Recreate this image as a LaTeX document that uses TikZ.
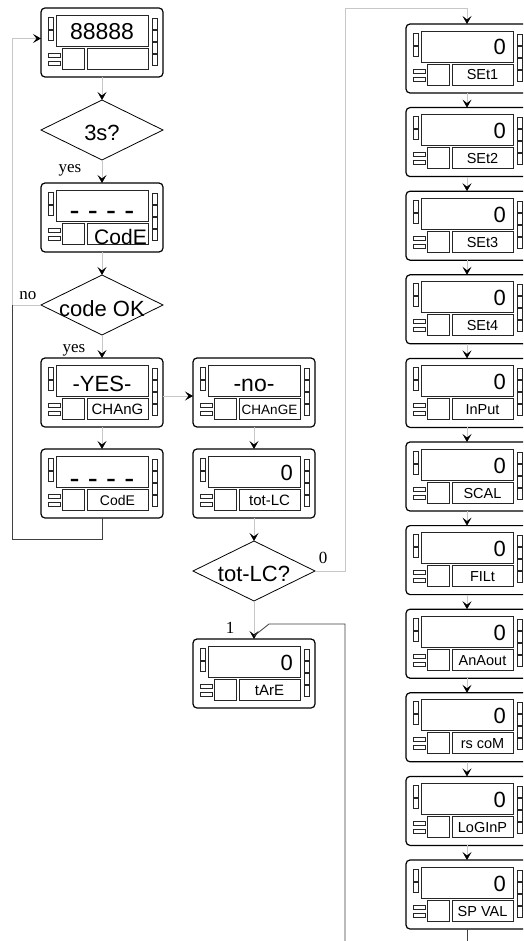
\documentclass[tikz,border=0pt]{standalone}
\usepackage{fontspec}
\setmainfont{Liberation Sans}
\newfontfamily\serifed{Liberation Serif}
\usetikzlibrary{arrows.meta,shapes.geometric}
\tikzset{
  devbox/.style={draw=black, line width=1.2pt, rounded corners=4pt, minimum width=122pt, minimum height=69pt, inner sep=0pt, outer sep=0pt},
  part/.style={draw=black!85, line width=0.7pt},
  conn/.style={draw=black!22, line width=0.7pt},
  darkconn/.style={draw=black!75, line width=0.8pt},
  arr/.style={-{Stealth[black, length=8pt, width=9pt, inset=3.5pt]}},
  decision/.style={draw=black, line width=0.8pt, diamond, minimum width=122pt, minimum height=60pt, inner sep=0pt, outer sep=0pt},
  big/.style={font=\fontsize{22}{22}\selectfont, inner sep=0pt},
  dtxt/.style={font=\fontsize{22}{22}\selectfont, inner sep=0pt},
  dashtxt/.style={font=\fontsize{30}{30}\selectfont, inner sep=0pt},
  lbl/.style={font=\fontsize{15}{15}\selectfont, inner sep=0pt},
  lblr/.style={font=\fontsize{14.5}{14.5}\selectfont, inner sep=0pt},
  ser/.style={font=\serifed\fontsize{17}{17}\selectfont, inner sep=0pt},
}
\newcommand\dev[4]{%
  \node[devbox] (#1) at ({#2+61},{#3+34.5}) {};
  \begin{scope}[shift={({#2},{#3})}]
    \draw[part] (7,9) rectangle (12,21) (7,22) rectangle (12,32)
      (15,7) rectangle (107,38)
      (7,45) rectangle (19,49) (7,53) rectangle (19,57)
      (21,40) rectangle (43,61) (46,40) rectangle (107,61)
      (111,10) rectangle (116,21) (111,22) rectangle (116,33)
      (111,34) rectangle (116,45) (111,46) rectangle (116,57);
    #4
  \end{scope}}
\begin{document}
\begin{tikzpicture}[x=1pt,y=-1pt]
\clip (0,0) rectangle (523,941);
\fill[white] (0,0) rectangle (523,941);
% left column
\dev{d1}{41}{8}{\node[font=\fontsize{23}{23}\selectfont,inner sep=0pt,anchor=base] at (61,31.5) {88888};}
\node[decision] (q1) at (102,130) {};
\node[dtxt,anchor=base] (q1t) at (102,141) {3s?};
\dev{d2}{41}{183}{\node[dashtxt,anchor=base] at (61,37.7) {- - - -};
  \node[font=\fontsize{21}{21}\selectfont,inner sep=0pt,anchor=base] at (79.5,61) {CodE};}
\node[decision] (q2) at (102,305) {};
\node[dtxt,anchor=base] (q2t) at (102,316) {code OK};
\dev{d3}{41}{358}{\node[big,anchor=base] at (61,33.5) {-YES-};
  \node[lbl,anchor=base] at (76.5,56) {CHAnG};}
\dev{d4}{41}{449}{\node[dashtxt,anchor=base] at (61,39.7) {- - - -};
  \node[font=\fontsize{14}{14}\selectfont,inner sep=0pt,anchor=base] at (76.5,56) {CodE};}
% middle column
\dev{d5}{193}{358}{\node[font=\fontsize{23}{23}\selectfont,inner sep=0pt,anchor=base] at (61,33) {-no-};
  \node[font=\fontsize{13.5}{13.5}\selectfont,inner sep=0pt,anchor=base] at (76.5,56) {CHAnGE};}
\dev{d6}{193}{449}{\node[big,anchor=base east] at (100,31) {0};
  \node[lbl,anchor=base] at (76.5,56) {tot-LC};}
\node[decision] (q3) at (254,571) {};
\node[dtxt,anchor=base] (q3t) at (254,581) {tot-LC?};
\dev{t}{193}{639}{\node[big,anchor=base east] at (100,31) {0};
  \node[lbl,anchor=base] at (76.5,56) {tArE};}
% right column
\foreach \lab [count=\i from 0] in {SEt1,SEt2,SEt3,SEt4,InPut,SCAL,FILt,AnAout,rs coM,LoGInP,SP VAL}{
  \dev{r\i}{406}{24+83.6*\i}{\node[big,anchor=base east] at (100,31) {0};
    \node[lblr,anchor=base] at (76.5,56) {\lab};}
}
% serif labels
\node[ser,anchor=base] (lyes1) at (70,173) {yes};
\node[ser,anchor=base] (lno) at (28,299) {no};
\node[ser,anchor=base] (lyes2) at (74,352) {yes};
\node[ser,anchor=base] (lzero) at (323,563) {0};
\node[ser,anchor=base] (lone) at (230,633) {1};
% connectors
\coordinate (loopL) at (12,305);
\coordinate (d1in) at ([yshift=4pt]d1.west);
\coordinate (r0top) at ([yshift=16pt]r0.north);
\coordinate (rline) at (345,624);
\coordinate (rbot) at (345,945);
\draw[conn,arr] (d1.south) -- (q1.north);
\draw[conn,arr] (q1.south) -- (d2.north);
\draw[conn,arr] (d2.south) -- (q2.north);
\draw[conn,arr] (q2.south) -- (d3.north);
\draw[conn,arr] (d3.south) -- (d4.north);
\draw[conn,arr] ([yshift=-3.5pt]d3.east) -- ([yshift=-3.5pt]d5.west);
\draw[conn,arr] (d5.south) -- (d6.north);
\draw[conn,arr] (d6.south) -- (q3.north);
\draw[conn,arr] (q3.south) -- (t.north);
\draw[conn,arr] (q2.west) -- (loopL) |- (d1in);
\draw[darkconn] (d4.south) |- (12,539) -- (loopL);
\draw[conn,arr] (q3.east) -- ++(30,0) |- (r0top) -- (r0.north);
\draw[darkconn] (rbot) -- (rline) -- (269,624) -- ([yshift=3pt]t.north);
\draw[darkconn] (r10.south) -- ++(0,20);
\foreach \i [evaluate=\i as \j using int(\i+1)] in {0,...,9}
  \draw[conn,arr] (r\i.south) -- (r\j.north);
\end{tikzpicture}
\end{document}
